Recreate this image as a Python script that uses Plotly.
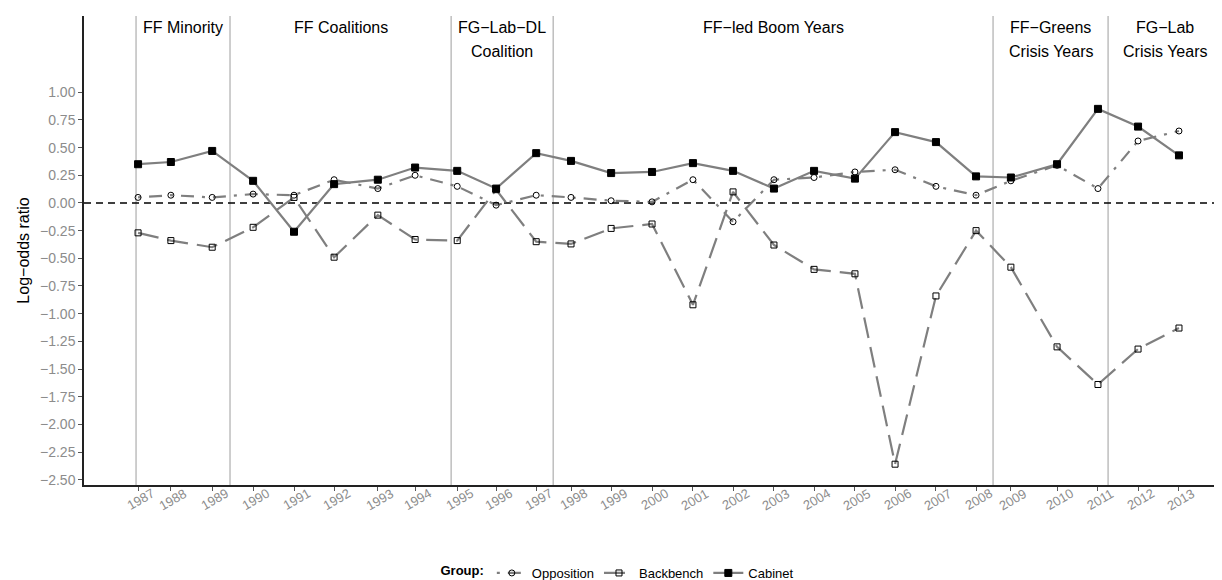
import plotly.graph_objects as go

# ---- data ----
years = list(range(1987, 2014))
year_labels = [str(y) for y in years]
session_dates = [1987.81, 1988.62, 1989.64, 1990.65, 1991.66, 1992.65, 1993.73, 1994.65,
                 1995.69, 1996.65, 1997.64, 1998.50, 1999.49, 2000.50, 2001.51, 2002.50,
                 2003.51, 2004.50, 2005.51, 2006.50, 2007.51, 2008.50, 2009.36, 2010.50,
                 2011.51, 2012.50, 2013.51]

opposition = [0.05, 0.07, 0.05, 0.08, 0.07, 0.21, 0.13, 0.25, 0.15, -0.02, 0.07, 0.05, 0.02,
              0.01, 0.21, -0.17, 0.21, 0.23, 0.28, 0.30, 0.15, 0.07, 0.20, 0.34, 0.13, 0.56, 0.65]
backbench = [-0.27, -0.34, -0.40, -0.22, 0.05, -0.49, -0.11, -0.33, -0.34, 0.12, -0.35, -0.37,
             -0.23, -0.19, -0.92, 0.10, -0.38, -0.60, -0.64, -2.36, -0.84, -0.25, -0.58, -1.30,
             -1.64, -1.32, -1.13]
cabinet = [0.35, 0.37, 0.47, 0.20, -0.26, 0.17, 0.21, 0.32, 0.29, 0.13, 0.45, 0.38, 0.27,
           0.28, 0.36, 0.29, 0.13, 0.29, 0.22, 0.64, 0.55, 0.24, 0.23, 0.35, 0.85, 0.69, 0.43]

period_starts = [1987.76, 1990.08, 1995.54, 1998.06, 2008.92, 2011.76]
period_end = 2014.58
period_labels = ["FF Minority", "FF Coalitions", "FG\u2212Lab\u2212DL\nCoalition",
                 "FF\u2212led Boom Years", "FF\u2212Greens\nCrisis Years", "FG\u2212Lab\nCrisis Years"]

y_ticks = [1.0, 0.75, 0.5, 0.25, 0.0, -0.25, -0.5, -0.75, -1.0, -1.25, -1.5, -1.75,
           -2.0, -2.25, -2.5]

FONT = "Liberation Sans, Arial, sans-serif"
LINE_GREY = "#7F7F7F"

fig = go.Figure()

series = [
    ("Opposition", opposition, "3px,8px,13px,8px", "circle-open", 6, "black"),
    ("Backbench", backbench, "21px,9px", "square-open", 6, "black"),
    ("Cabinet", cabinet, "solid", "square", 7, "black"),
]
for name, vals, dash, sym, size, mcol in series:
    fig.add_trace(go.Scatter(
        x=session_dates, y=vals, name=name, mode="lines+markers",
        line=dict(color=LINE_GREY, width=2.2, dash=dash),
        marker=dict(symbol=sym, size=size, color=mcol, line=dict(color="black", width=1)),
    ))

# period boundary lines
for s in period_starts:
    fig.add_shape(type="line", xref="x", yref="paper", x0=s, x1=s, y0=0, y1=1,
                  line=dict(color="#BEBEBE", width=1.5), layer="below")

# zero reference line
fig.add_shape(type="line", xref="paper", yref="y", x0=0, x1=1, y0=0, y1=0,
              line=dict(color="black", width=1.5, dash="7px,5px"), layer="below")

# period labels
bounds = period_starts + [period_end]
for i, lab in enumerate(period_labels):
    cx = (bounds[i] + bounds[i + 1]) / 2
    for j, line in enumerate(lab.split("\n")):
        fig.add_annotation(x=cx, xref="x", y=1, yref="paper", text=line, showarrow=False,
                           xanchor="center", yanchor="middle", yshift=-11 - 24 * j,
                           font=dict(family=FONT, size=16, color="black"))

# rotated year tick labels
for xv, lab in zip(session_dates, year_labels):
    fig.add_annotation(x=xv, xref="x", y=0, yref="paper", text=lab, showarrow=False,
                       textangle=-30, xanchor="center", yanchor="middle",
                       xshift=2, yshift=-14,
                       font=dict(family=FONT, size=13, color="#8C8C8C"))

fig.update_layout(
    width=1222, height=580,
    margin=dict(l=76, r=0, t=8, b=103, autoexpand=False),
    paper_bgcolor="white", plot_bgcolor="white",
    font=dict(family=FONT, size=13, color="black"),
    showlegend=True,
    legend=dict(orientation="h", xref="container", yref="container",
                x=0.5, xanchor="center", y=0.0, yanchor="bottom",
                title=dict(text="<b>Group:</b>", side="left", font=dict(size=13)),
                font=dict(family=FONT, size=13, color="black"),
                itemwidth=30, tracegroupgap=0, bgcolor="rgba(0,0,0,0)"),
)

fig.update_xaxes(range=[1986.475, 2014.77], showgrid=False, zeroline=False, automargin=False,
                 showline=True, linecolor="#222", linewidth=1.5,
                 tickmode="array", tickvals=session_dates, showticklabels=False,
                 ticks="outside", ticklen=4, tickcolor="#555", tickwidth=1)
fig.update_yaxes(range=[-2.548, 1.689], showgrid=False, zeroline=False, automargin=False,
                 showline=True, linecolor="#222", linewidth=1.5,
                 tickmode="array", tickvals=y_ticks, tickformat=".2f",
                 ticks="outside", ticklen=4, tickcolor="#555", tickwidth=1,
                 tickfont=dict(family=FONT, size=14, color="#8C8C8C"),
                 title=dict(text="Log\u2212odds ratio", standoff=6,
                            font=dict(family=FONT, size=16, color="black")))

fig.write_html("out.html")
